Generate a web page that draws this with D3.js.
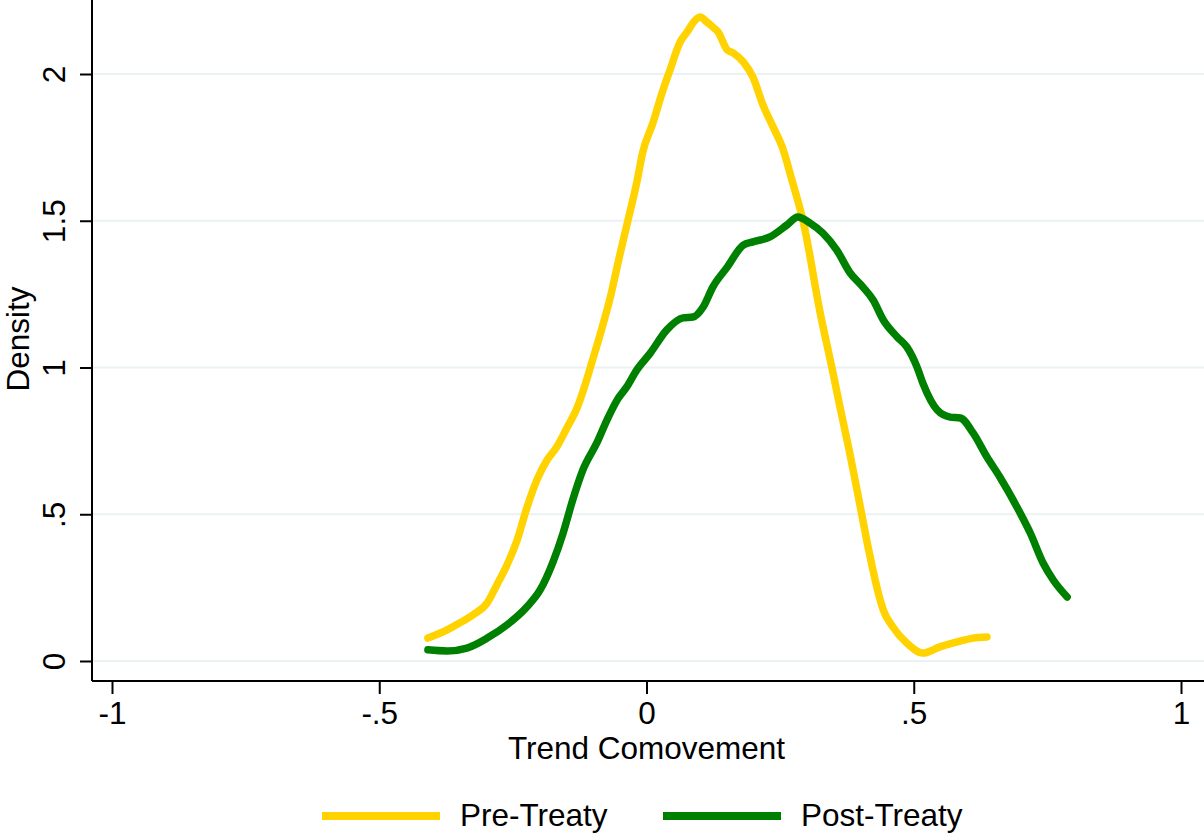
<!DOCTYPE html>
<html>
<head>
<meta charset="utf-8">
<script src="https://cdn.jsdelivr.net/npm/d3@7"></script>
<style>
  body { margin: 0; background: #fff; }
  text { font-family: "Liberation Sans", Arial, Helvetica, sans-serif; fill: #000; }
</style>
</head>
<body>
<div id="chart"></div>
<script>
// kernel density estimates
const preX = [-0.409, -0.373, -0.349, -0.325, -0.298, -0.280, -0.261, -0.242, -0.224, -0.205,
              -0.186, -0.168, -0.149, -0.130, -0.115, -0.102, -0.087, -0.068, -0.050, -0.035,
              -0.018, -0.007, 0.012, 0.029, 0.044, 0.063, 0.076, 0.087, 0.100, 0.113,
              0.124, 0.134, 0.151, 0.162, 0.181, 0.199, 0.218, 0.237, 0.254, 0.272,
              0.293, 0.325, 0.347, 0.364, 0.381, 0.392, 0.403, 0.413, 0.422, 0.431,
              0.443, 0.461, 0.487, 0.517, 0.549, 0.581, 0.611, 0.637];
const preY = [0.078, 0.106, 0.130, 0.157, 0.198, 0.259, 0.327, 0.412, 0.521, 0.617,
              0.685, 0.729, 0.794, 0.862, 0.940, 1.019, 1.111, 1.237, 1.383, 1.499,
              1.632, 1.734, 1.833, 1.935, 2.014, 2.109, 2.143, 2.174, 2.194, 2.177,
              2.160, 2.143, 2.082, 2.072, 2.041, 1.990, 1.894, 1.819, 1.751, 1.639,
              1.499, 1.186, 0.998, 0.848, 0.702, 0.600, 0.497, 0.402, 0.324, 0.252,
              0.174, 0.116, 0.061, 0.027, 0.048, 0.065, 0.078, 0.082];

const postX = [-0.409, -0.373, -0.336, -0.298, -0.261, -0.224, -0.199, -0.175, -0.156, -0.138,
               -0.119, -0.093, -0.074, -0.055, -0.037, -0.018, 0.007, 0.038, 0.068, 0.087,
               0.106, 0.124, 0.151, 0.181, 0.199, 0.231, 0.263, 0.283, 0.306, 0.330,
               0.356, 0.381, 0.405, 0.424, 0.443, 0.469, 0.487, 0.506, 0.517, 0.544,
               0.568, 0.587, 0.611, 0.637, 0.661, 0.693, 0.718, 0.742, 0.761, 0.787];
const postY = [0.038, 0.034, 0.044, 0.078, 0.123, 0.184, 0.242, 0.337, 0.436, 0.549,
               0.651, 0.743, 0.821, 0.889, 0.934, 0.992, 1.049, 1.128, 1.169, 1.172,
               1.206, 1.274, 1.342, 1.417, 1.428, 1.445, 1.486, 1.513, 1.492, 1.458,
               1.400, 1.322, 1.274, 1.230, 1.162, 1.104, 1.070, 1.002, 0.947, 0.855,
               0.831, 0.828, 0.777, 0.695, 0.627, 0.525, 0.436, 0.334, 0.276, 0.218];

const xTicks = [-1, -0.5, 0, 0.5, 1];
const xTickLabels = ["-1", "-.5", "0", ".5", "1"];
const yTicks = [0, 0.5, 1, 1.5, 2];
const yTickLabels = ["0", ".5", "1", "1.5", "2"];

const seriesNames = ["Pre-Treaty", "Post-Treaty"];
const seriesColors = ["#FFD200", "#008000"];

const W = 1204, H = 834;
const margin = { top: 0, right: 0, bottom: 153, left: 92 };
const width = W - margin.left - margin.right,
      height = H - margin.top - margin.bottom;
const fontSize = "31.5px";

const svg = d3.select("#chart").append("svg")
    .attr("width", W)
    .attr("height", H);

const g = svg.append("g")
    .attr("transform", `translate(${margin.left},${margin.top})`);

// -1 sits 20px in from the y axis, 0 sits 20px above the x axis
const x = d3.scaleLinear()
    .domain([-1 - 20 / 534.5, 1 + (width - 1089) / 534.5])
    .range([0, width]);
const y = d3.scaleLinear()
    .domain([-20 / 293.5, 661 / 293.5])
    .range([height, 0]);

// grid
g.selectAll(".grid")
  .data(yTicks)
  .join("line")
  .attr("x1", 0).attr("x2", width)
  .attr("y1", d => y(d)).attr("y2", d => y(d))
  .attr("stroke", "#EAF2F3")
  .attr("stroke-width", 2);

// x axis
const xAxis = g.append("g")
  .attr("transform", `translate(0,${height})`)
  .call(d3.axisBottom(x).tickValues(xTicks).tickSize(13).tickPadding(8)
        .tickFormat((d, i) => xTickLabels[i]));
xAxis.select(".domain").attr("stroke", "#000").attr("stroke-width", 2)
  .attr("d", `M0,0H${width}`);
xAxis.selectAll(".tick line").attr("stroke", "#000").attr("stroke-width", 2);
xAxis.selectAll(".tick text")
  .style("font-size", fontSize)
  .style("font-family", "Liberation Sans, Arial, sans-serif");

// y axis
const yAxis = g.append("g")
  .call(d3.axisLeft(y).tickValues(yTicks).tickSize(12).tickPadding(0)
        .tickFormat((d, i) => yTickLabels[i]));
yAxis.select(".domain").attr("stroke", "#000").attr("stroke-width", 2)
  .attr("d", `M0,${height}V0`);
yAxis.selectAll(".tick line").attr("stroke", "#000").attr("stroke-width", 2);
yAxis.selectAll(".tick text")
  .attr("x", null).attr("dy", null)
  .attr("text-anchor", "middle")
  .attr("transform", "translate(-27,0) rotate(-90)")
  .style("font-size", fontSize)
  .style("font-family", "Liberation Sans, Arial, sans-serif");

// axis titles
svg.append("text")
  .attr("x", margin.left + x(0))
  .attr("y", 759)
  .attr("text-anchor", "middle")
  .style("font-size", fontSize)
  .text("Trend Comovement");

svg.append("text")
  .attr("transform", "translate(29,339) rotate(-90)")
  .attr("text-anchor", "middle")
  .style("font-size", fontSize)
  .text("Density");

// density lines
const line = d3.line()
  .x(d => x(d[0]))
  .y(d => y(d[1]))
  .curve(d3.curveMonotoneX);

const series = [
  d3.zip(preX, preY),
  d3.zip(postX, postY)
];

g.selectAll(".dens")
  .data(series)
  .join("path")
  .attr("fill", "none")
  .attr("stroke", (d, i) => seriesColors[i])
  .attr("stroke-width", 7.5)
  .attr("stroke-linecap", "round")
  .attr("stroke-linejoin", "round")
  .attr("d", line);

// legend
const legendX = [322, 663];
const legend = svg.selectAll(".legend")
  .data(seriesNames)
  .join("g")
  .attr("transform", (d, i) => `translate(${legendX[i]}, 816)`);

legend.append("line")
  .attr("x1", 0).attr("x2", 118)
  .attr("stroke", (d, i) => seriesColors[i])
  .attr("stroke-width", 8);

legend.append("text")
  .attr("x", 138)
  .attr("y", 10)
  .style("font-size", fontSize)
  .text(d => d);
</script>
</body>
</html>
